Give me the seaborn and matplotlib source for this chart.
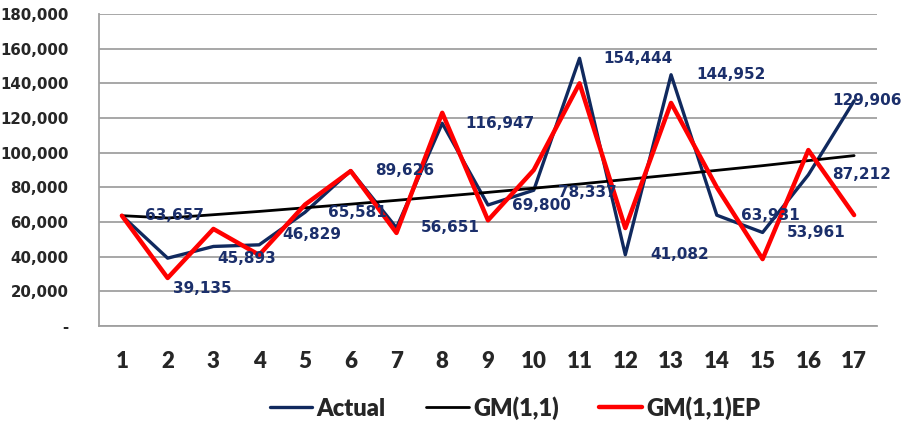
import matplotlib
matplotlib.use("Agg")
import matplotlib.pyplot as plt
import seaborn as sns
import pandas as pd
from matplotlib.ticker import FuncFormatter, FixedLocator

# %%
periods = list(range(1, 18))
actual = [63657, 39135, 45893, 46829, 65581, 89626, 56651, 116947, 69800,
          78337, 154444, 41082, 144952, 63931, 53961, 87212, 129906]
gm11 = [63657, 62300, 64200, 66100, 68200, 70300, 72500, 74800, 77100,
        79500, 81900, 84500, 87100, 89800, 92500, 95400, 98300]
gm11ep = [63657, 27700, 56000, 41000, 70000, 89400, 53700, 123000, 61000,
          90000, 140000, 56500, 128700, 80000, 38600, 101500, 64000]

df = pd.DataFrame({"period": periods, "Actual": actual,
                   "GM(1,1)": gm11, "GM(1,1)EP": gm11ep})

# label offsets (pixels) for the data labels of the actual series
label_dx = [53, 35, 33, 53, 52, 54, 54, 58, 53, 54, 58, 54, 60, 54, 54, 53, 13]
label_dy = [0, -30, -12, 10, 0, 0, 0, 0, 0, -2, 0, 0, 0, 0, 0, 0, 0]

# %%
sns.set_style("white")
navy = "#10295E"
grid_c = "#A0A0A0"

fig = plt.figure(figsize=(9.05, 4.23), dpi=100)
ax = fig.add_axes([99 / 905, 1 - 326 / 423, 778 / 905, 312 / 423])

sns.lineplot(data=df, x="period", y="Actual", color=navy, lw=2.4, ax=ax, label="Actual")
sns.lineplot(data=df, x="period", y="GM(1,1)", color="black", lw=2.0, ax=ax, label="GM(1,1)")
sns.lineplot(data=df, x="period", y="GM(1,1)EP", color="#FF0000", lw=3.2, ax=ax, label="GM(1,1)EP")

for k, v, dx, dy in zip(periods, actual, label_dx, label_dy):
    ax.annotate(f"{v:,}", (k, v), xytext=(dx, dy), textcoords="offset pixels",
                ha="center", va="center", fontsize=11, fontweight="bold",
                color="#1B2F6B", family="DejaVu Sans")

ax.set_xlim(0.5, 17.5)
ax.set_ylim(0, 180000)
ax.set_yticks(range(0, 180001, 20000))
ax.yaxis.set_major_formatter(FuncFormatter(lambda v, p: "-" if v == 0 else f"{v:,.0f}"))
ax.grid(axis="y", color=grid_c, lw=1.3)
ax.set_axisbelow(True)

ax.set_xticks(periods)
ax.set_xticklabels([str(p) for p in periods], family="Lato", fontweight=800, fontsize=16)
ax.xaxis.set_minor_locator(FixedLocator([p + 0.5 for p in range(0, 18)]))
ax.tick_params(axis="x", which="major", length=0, pad=18)
ax.tick_params(axis="x", which="minor", length=6, color=grid_c, width=1.2)
ax.tick_params(axis="y", length=5, color=grid_c, width=1.2, pad=17)
for lab in ax.get_yticklabels():
    lab.set_fontfamily("DejaVu Sans")
    lab.set_fontweight("bold")
    lab.set_fontsize(10.8)

sns.despine(ax=ax, top=True, right=True)
for side in ("left", "bottom"):
    ax.spines[side].set_color(grid_c)
    ax.spines[side].set_linewidth(1.3)
ax.set_xlabel("")
ax.set_ylabel("")

handles, labels = ax.get_legend_handles_labels()
ax.get_legend().remove()
fig.legend(handles, labels, loc="center", bbox_to_anchor=(515 / 905, 1 - 408 / 423), ncol=3,
           frameon=False, handlelength=1.8, columnspacing=1.7, handletextpad=0.2,
           prop={"family": "Lato", "weight": 800, "size": 17})

fig.savefig("out.png", dpi=100)
